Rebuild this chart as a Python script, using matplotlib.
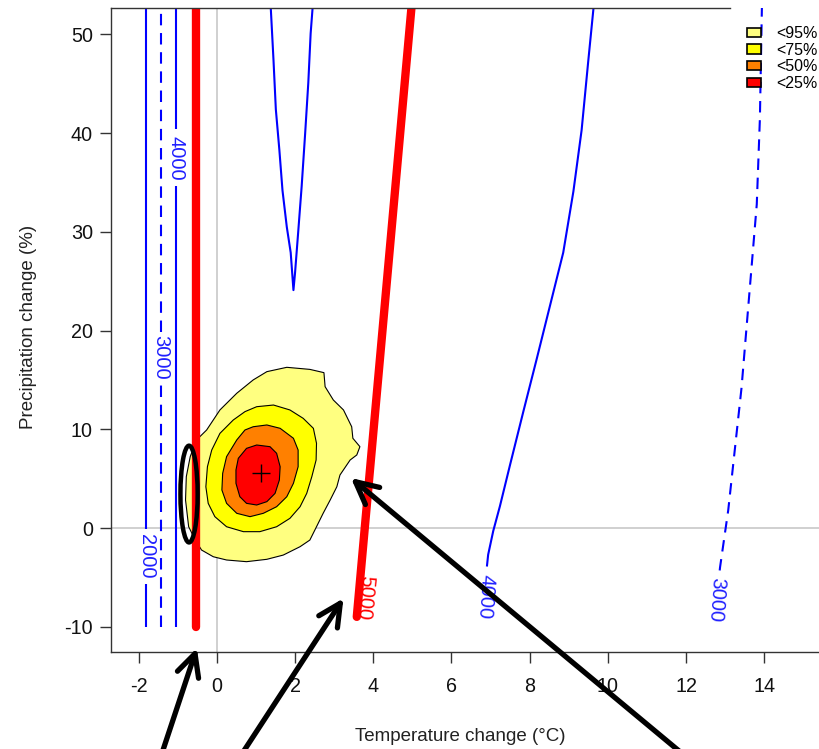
import numpy as np
import matplotlib
matplotlib.use('Agg')
import matplotlib.pyplot as plt
from matplotlib.patches import Polygon, Ellipse, Patch

plt.rcParams['font.family'] = ['Liberation Sans', 'DejaVu Sans']

# ---------------- data (temperature change degC, precipitation change %) ----
# density regions of the climate projections
p95_x = [-0.26, 0.08, 0.51, 0.93, 1.28, 1.79, 2.38, 2.74, 2.77, 2.98, 3.24, 3.45, 3.48, 3.66,
         3.58, 3.41, 3.15, 3.07, 2.90, 2.72, 2.55, 2.38, 2.13, 1.70, 1.28, 0.76, 0.25, -0.09,
         -0.39, -0.55, -0.72, -0.80, -0.78, -0.68, -0.52]
p95_y = [9.93, 11.96, 13.65, 15.0, 15.84, 16.28, 16.07, 15.74, 14.32, 12.97, 11.96, 10.26, 9.09, 8.24,
         7.40, 6.89, 5.37, 4.18, 2.84, 1.49, 0.13, -1.22, -1.89, -2.74, -3.17, -3.41, -3.24, -2.91,
         -2.23, -1.22, 0.13, 2.84, 5.20, 7.23, 8.92]
p75_x = [1.02, 1.45, 1.87, 2.21, 2.47, 2.55, 2.54, 2.43, 2.30, 2.13, 1.87, 1.53, 1.10, 0.68,
         0.25, -0.05, -0.22, -0.28, -0.24, -0.13, 0.08, 0.42, 0.72]
p75_y = [12.29, 12.46, 11.96, 11.11, 10.10, 8.58, 6.89, 5.20, 3.51, 2.16, 0.98, 0.13, -0.37, -0.37,
         0.13, 1.15, 2.50, 4.18, 6.21, 7.90, 9.59, 10.94, 11.79]
p50_x = [0.93, 1.28, 1.62, 1.96, 2.08, 2.08, 1.96, 1.79, 1.53, 1.19, 0.85, 0.51, 0.25, 0.13,
         0.15, 0.25, 0.51, 0.72]
p50_y = [10.26, 10.44, 10.10, 9.09, 7.90, 6.21, 4.53, 3.17, 2.16, 1.49, 1.15, 1.49, 2.50, 3.85,
         5.54, 7.23, 8.92, 9.93]
p25_x = [0.76, 1.02, 1.36, 1.53, 1.62, 1.60, 1.49, 1.28, 1.02, 0.76, 0.59, 0.49, 0.49, 0.55]
p25_y = [8.07, 8.41, 8.24, 7.57, 6.21, 4.86, 3.51, 2.67, 2.33, 2.50, 3.17, 4.53, 5.88, 7.06]
centre_x = [1.12]
centre_y = [5.54]

region_labels = ['<95%', '<75%', '<50%', '<25%']
region_colors = ['#FFFF80', '#FFFF00', '#FF8000', '#FF0000']

# response-surface contour lines
left2000_x = [-1.81, -1.81]
left2000_y = [-10, 55]
left3000_x = [-1.43, -1.43]
left3000_y = [-10, 55]
left4000_x = [-1.04, -1.04]
left4000_y = [-10, 55]
red_left_x = [-0.52, -0.52]
red_left_y = [-10, 55]
v_x = [1.38, 1.45, 1.51, 1.60, 1.68, 1.79, 1.89, 1.96, 2.00, 2.08, 2.17, 2.26, 2.34, 2.40, 2.45]
v_y = [52.7, 47.4, 42.4, 38.3, 34.2, 30.5, 27.9, 24.1, 25.8, 29.9, 34.6, 40.0, 45.1, 50.1, 52.7]
red_right_x = [3.58, 5.03]
red_right_y = [-9.0, 55]
right4000_x = [6.84, 6.86, 6.90, 6.94, 7.07, 7.24, 7.50, 7.84, 8.18, 8.52, 8.86, 9.12, 9.33, 9.50, 9.63, 9.68]
right4000_y = [-10, -7.0, -4.2, -2.7, -0.3, 2.2, 6.4, 11.8, 17.1, 22.5, 27.9, 34.1, 40.3, 47.3, 52.5, 55]
right3000_x = [12.72, 12.78, 12.87, 13.08, 13.25, 13.42, 13.55, 13.68, 13.81, 13.89, 13.94, 13.96]
right3000_y = [-10, -7.3, -4.0, 1.8, 8.0, 14.2, 20.4, 26.6, 32.8, 41.5, 52.5, 55]

# contour labels: text, y of label centre, half length of the gap
label_text = ['2000', '3000', '4000', '4000', '3000', '5000']
label_y = [-2.9, 17.3, 37.5, -7.0, -7.3, -7.1]
label_half = [2.8, 2.6, 2.9, 3.1, 3.0, 2.2]

x_ticks = [-2, 0, 2, 4, 6, 8, 10, 12, 14]
y_ticks = [-10, 0, 10, 20, 30, 40, 50]

# annotation arrows (tip, tail) and highlight ellipse
arrow_tips = [(-0.51, -12.16), (3.24, -7.12), (3.43, 5.07)]
arrow_tails = [(-1.46, -23.5), (0.54, -23.5), (12.1, -23.5)]
ellipse_centre = (-0.71, 3.44)
ellipse_size = (0.44, 9.8)

# ---------------- figure ----------------------------------------------------
fig = plt.figure(figsize=(8.19, 7.49), dpi=100)
ax = fig.add_axes([111 / 819, 97 / 749, 731.4 / 819, 644 / 749])
ax.set_xlim(-2.706, 16.0)
ax.set_ylim(-12.56, 52.68)

# reference lines
ax.axvline(0, color='#C8C8C8', lw=1.2, zorder=1)
ax.axhline(0, color='#C8C8C8', lw=1.2, zorder=1)

# density regions
for xs, ys, c in [(p95_x, p95_y, region_colors[0]), (p75_x, p75_y, region_colors[1]),
                  (p50_x, p50_y, region_colors[2]), (p25_x, p25_y, region_colors[3])]:
    ax.add_patch(Polygon(np.column_stack([xs, ys]), closed=True, facecolor=c,
                         edgecolor='black', lw=0.8, zorder=2))
ax.plot(centre_x, centre_y, marker='+', color='black', ms=13, mew=1.0, ls='none', zorder=3)


def line_with_gap(xs, ys, lab_y, half, **kw):
    xs = np.asarray(xs, float)
    ys = np.asarray(ys, float)
    lo, hi = lab_y - half, lab_y + half
    x_lo, x_hi = np.interp(lo, ys, xs), np.interp(hi, ys, xs)
    m1 = ys < lo
    m2 = ys > hi
    if m1.any():
        ax.plot(np.r_[xs[m1], x_lo], np.r_[ys[m1], lo], **kw)
    if m2.any():
        ax.plot(np.r_[x_hi, xs[m2]], np.r_[hi, ys[m2]], **kw)
    return np.interp(lab_y, ys, xs)


solid = dict(color='blue', lw=1.5, zorder=3, solid_capstyle='butt')
dashed = dict(color='blue', lw=1.5, zorder=3, ls=(0, (5.5, 3.7)), dash_capstyle='butt')

blue_lines = [(left2000_x, left2000_y, solid), (left3000_x, left3000_y, dashed),
              (left4000_x, left4000_y, solid), (right4000_x, right4000_y, solid),
              (right3000_x, right3000_y, dashed)]
rots = [270, 270, 270, 266, 266]
for (xs, ys, st), t, ly, hf, r in zip(blue_lines, label_text, label_y, label_half, rots):
    lx = line_with_gap(xs, ys, ly, hf, **st)
    ax.text(lx, ly, t, color='#2020FF', fontsize=14.5, rotation=r, ha='center', va='center',
            rotation_mode='anchor', zorder=4)

ax.plot(v_x, v_y, color='blue', lw=1.5, zorder=3)

# thick red 5000 lines
ax.plot(red_left_x, red_left_y, color='red', lw=6, solid_capstyle='round', zorder=4)
ax.plot(red_right_x, red_right_y, color='red', lw=6, solid_capstyle='round', zorder=4)
lx = np.interp(label_y[5], red_right_y, red_right_x) + 0.17
ax.text(lx, label_y[5], label_text[5], color='red', fontsize=14.5, rotation=265,
        ha='center', va='center', rotation_mode='anchor', zorder=3.5)

# highlight ellipse
ax.add_patch(Ellipse(ellipse_centre, ellipse_size[0], ellipse_size[1], fill=False,
                     edgecolor='black', lw=3.2, zorder=6))

# arrows
for tip, tail in zip(arrow_tips, arrow_tails):
    ax.annotate('', xy=tip, xytext=tail, annotation_clip=False,
                arrowprops=dict(arrowstyle='->,head_length=0.8,head_width=0.4',
                                lw=3.8, color='black', mutation_scale=20,
                                shrinkA=0, shrinkB=0), zorder=7)

# axes styling
ax.set_xticks(x_ticks)
ax.set_yticks(y_ticks)
ax.set_xticklabels([str(v) for v in x_ticks])
ax.set_yticklabels([str(v) for v in y_ticks])
ax.tick_params(axis='both', direction='out', length=8, width=1, color='#333333',
               labelsize=14.2, labelcolor='#111111')
ax.tick_params(axis='x', pad=10)
ax.tick_params(axis='y', pad=5)
for s in ['top', 'right']:
    ax.spines[s].set_visible(False)
for s in ['left', 'bottom']:
    ax.spines[s].set_color('#333333')
    ax.spines[s].set_linewidth(1.0)
ax.plot([0, 0.846], [1, 1], transform=ax.transAxes, color='#333333', lw=1.0,
        clip_on=False, zorder=8)

ax.set_xlabel('Temperature change (°C)', fontsize=13.5, color='#222222')
ax.set_ylabel('Precipitation change (%)', fontsize=13.5, color='#222222')
ax.xaxis.set_label_coords(0.478, -0.118)
ax.yaxis.set_label_coords(-0.101, 0.505)

handles = [Patch(facecolor=c, edgecolor='black', lw=1.2, label=l)
           for c, l in zip(region_colors, region_labels)]
ax.legend(handles=handles, loc='upper left', bbox_to_anchor=(0.8696, 0.972), frameon=False,
          fontsize=11.5, handlelength=0.85, handleheight=0.5, handletextpad=1.0,
          labelspacing=0.1, borderpad=0, borderaxespad=0)

fig.savefig('out.png', dpi=100)
